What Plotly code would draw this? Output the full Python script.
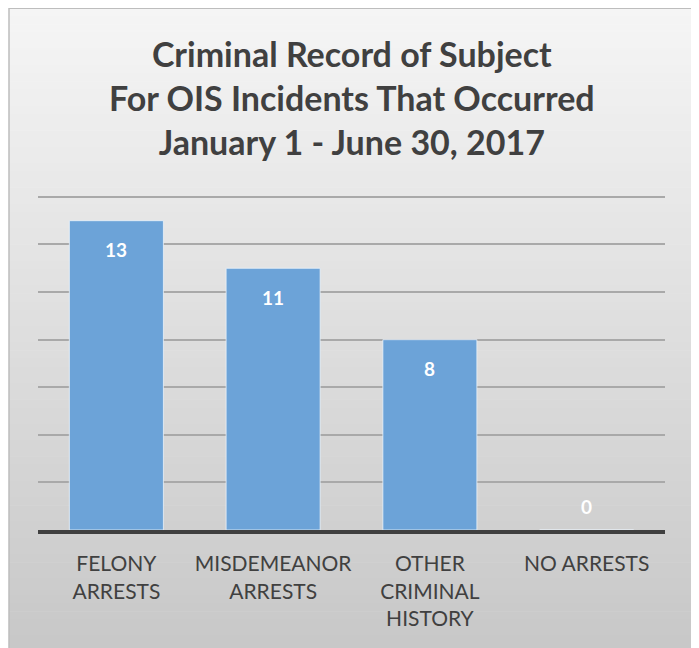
import plotly.graph_objects as go

# ---- data ----
categories = ["FELONY<br>ARRESTS", "MISDEMEANOR<br>ARRESTS", "OTHER<br>CRIMINAL<br>HISTORY", "NO ARRESTS"]
values = [13, 11, 8, 0]
title_lines = ["Criminal Record of Subject", "For OIS Incidents That Occurred", "January 1 - June 30, 2017"]
grid_values = [2, 4, 6, 8, 10, 12, 14]
y_max = 14.5

OFF = 8                      # page body margin
W, H = 699 - OFF, 648 - OFF  # figure size
# plot area in page pixels (value 14 lands at y=197, 0 at y=530)
unit = (530 - 197) / 14
PL, PR, PT, PB = 38, 665, 530 - y_max * unit, 530
L, R, T, B = PL - OFF, W - (PR - OFF), PT - OFF, H - (PB - OFF)
pw, ph = W - L - R, H - T - B

def px_x(px):  # page px -> paper x
    return (px - OFF - L) / pw

def px_y(py):  # page px -> paper y
    return (H - B - (py - OFF)) / ph

fig = go.Figure()
fig.add_trace(go.Bar(
    x=categories, y=values,
    marker=dict(color="#6ca3d8", line=dict(color="rgba(235,242,250,0.8)", width=1)),
    hoverinfo="skip",
))

shapes = []
# light strip to the right of the chart frame
shapes.append(dict(type="rect", xref="paper", yref="paper", layer="below",
                   x0=px_x(693), x1=px_x(705), y0=px_y(660), y1=px_y(8),
                   fillcolor="#e4e4e4", line=dict(width=0)))
# background gradient (chart area)
x0, x1, y0, y1 = 9, 693, 8, 660
n = 80
c_top, c_bot = (245, 245, 245), (199, 199, 199)
for i in range(n):
    f = i / (n - 1)
    c = tuple(round(c_top[k] + (c_bot[k] - c_top[k]) * f) for k in range(3))
    ya = y0 + (y1 - y0) * i / n
    yb = y0 + (y1 - y0) * (i + 1) / n + 0.6
    shapes.append(dict(type="rect", xref="paper", yref="paper", layer="below",
                       x0=px_x(x0), x1=px_x(x1), y0=px_y(yb), y1=px_y(ya),
                       fillcolor="rgb(%d,%d,%d)" % c, line=dict(width=0)))
# border
shapes.append(dict(type="rect", xref="paper", yref="paper", layer="above",
                   x0=px_x(x0), x1=px_x(x1), y0=px_y(y1), y1=px_y(y0 + 0.5),
                   fillcolor="rgba(0,0,0,0)", line=dict(color="#bdbdbd", width=1.5)))

annotations = []
# title
annotations.append(dict(text="<br>".join(title_lines), xref="paper", yref="paper",
                        x=px_x(352), y=px_y(98), xanchor="center", yanchor="middle",
                        showarrow=False,
                        font=dict(family="Lato", size=34, color="#404040", weight="bold")))
# value labels
for c, v in zip(categories, values):
    annotations.append(dict(x=c, y=v, xref="x", yref="y", text=str(v), showarrow=False,
                            yshift=(-29 if v > 0 else 24),
                            font=dict(family="Lato", size=19, color="white", weight="bold")))

fig.update_layout(
    width=W, height=H,
    margin=dict(l=L, r=R, t=T, b=B, pad=0),
    paper_bgcolor="white",
    plot_bgcolor="rgba(0,0,0,0)",
    showlegend=False,
    bargap=0.4,
    shapes=shapes,
    annotations=annotations,
    xaxis=dict(showline=True, linecolor="#404040", linewidth=4, ticks="",
               tickfont=dict(family="Lato", size=21, color="#404040"),
               ticklabelstandoff=12,
               showgrid=False, fixedrange=True, automargin=False),
    yaxis=dict(range=[0, y_max], tickvals=grid_values, showticklabels=False,
               showgrid=True, gridcolor="#a9a9a9", gridwidth=2, zeroline=False,
               fixedrange=True, automargin=False),
)

fig.write_html("out.html")
